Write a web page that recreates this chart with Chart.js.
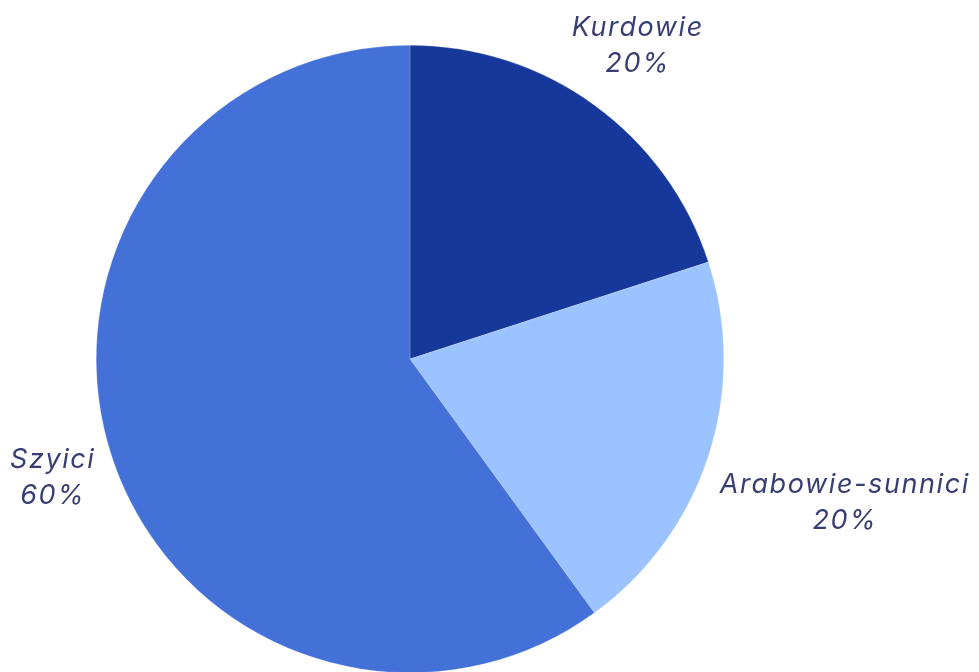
<!DOCTYPE html>
<html>
<head>
<meta charset="utf-8">
<script src="https://cdn.jsdelivr.net/npm/chart.js@4.4.1/dist/chart.umd.min.js"></script>
<style>
  html, body { margin: 0; padding: 0; background: #fff; overflow: hidden; }
  #wrap { width: 979px; height: 680px; }
</style>
</head>
<body>
<div id="wrap"><canvas id="pie"></canvas></div>
<script>
// chart data
const labels = ['Kurdowie', 'Arabowie-sunnici', 'Szyici'];
const values = [20, 20, 60];
const colors = ['#15389a', '#9ac3ff', '#4371d8'];

// where each label sits: angle (deg, from centre) and distance as a multiple of radius
const labelPlaces = [
    { angle: -54, dist: 1.235 },
    { angle: 18.3, dist: 1.46 },
    { angle: 161.6, dist: 1.2 }
];

const outsideLabels = {
    id: 'outsideLabels',
    afterDatasetsDraw(chart) {
        const ctx = chart.ctx;
        const meta = chart.getDatasetMeta(0);
        const total = values.reduce((a, b) => a + b, 0);
        ctx.save();
        ctx.font = 'italic 27px Inter';
        ctx.letterSpacing = '1.6px';
        ctx.fillStyle = '#383e72';
        ctx.textAlign = 'center';
        ctx.textBaseline = 'middle';
        meta.data.forEach((arc, i) => {
            const p = labelPlaces[i];
            const a = p.angle * Math.PI / 180;
            const x = arc.x + Math.cos(a) * arc.outerRadius * p.dist;
            const y = arc.y + Math.sin(a) * arc.outerRadius * p.dist;
            const pct = Math.round(values[i] / total * 100) + '%';
            ctx.fillText(labels[i], x, y - 18);
            ctx.fillText(pct, x, y + 18);
        });
        ctx.restore();
    }
};

new Chart(document.getElementById('pie'), {
    type: 'pie',
    data: {
        labels: labels,
        datasets: [{
            data: values,
            backgroundColor: colors,
            borderColor: 'rgba(255,255,255,0.4)',
            borderWidth: 0.5
        }]
    },
    options: {
        responsive: true,
        maintainAspectRatio: false,
        animation: false,
        layout: { padding: { top: 45, bottom: 7, left: 96, right: 255 } },
        plugins: {
            legend: { display: false },
            tooltip: { enabled: false }
        }
    },
    plugins: [outsideLabels]
});
</script>
</body>
</html>
